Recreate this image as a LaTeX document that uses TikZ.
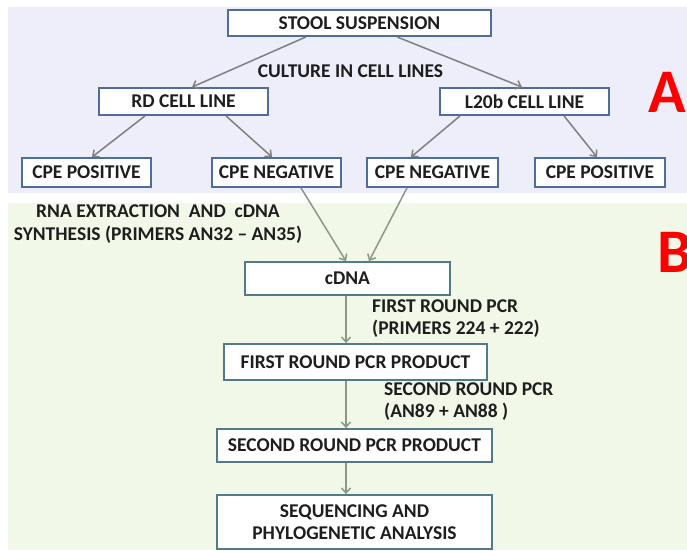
\documentclass[tikz,border=0pt]{standalone}
\usepackage{fontspec}
\setmainfont{Carlito}
\usetikzlibrary{arrows.meta}
\definecolor{bgA}{HTML}{EEEEFA}
\definecolor{bgB}{HTML}{F2F8E8}
\definecolor{edgeA}{HTML}{4F6C9E}
\definecolor{edgeB}{HTML}{537A8A}
\definecolor{arrA}{HTML}{7F7F7F}
\definecolor{arrB}{HTML}{8A9888}
\definecolor{txt}{HTML}{1E1E1E}
\definecolor{lettred}{HTML}{FF0000}
\tikzset{
  boxA/.style={draw=edgeA, line width=1.8pt, fill=white, inner sep=0pt, font=\fontsize{19.5}{22.5}\selectfont\bfseries, text=txt, align=center},
  boxB/.style={draw=edgeB, line width=1.8pt, fill=white, inner sep=0pt, font=\fontsize{19.5}{22.5}\selectfont\bfseries, text=txt, align=center},
  lbl/.style={font=\fontsize{19.5}{22.5}\selectfont\bfseries, text=txt, inner sep=0pt},
  bigletter/.style={font=\fontsize{62}{62}\selectfont\bfseries, text=lettred, inner sep=0pt, anchor=west},
  arrowA/.style={draw=arrA, line width=1.5pt, -{Straight Barb[length=5pt,width=9pt]}},
  arrowB/.style={draw=arrB, line width=1.5pt, -{Straight Barb[length=5pt,width=9pt]}}
}
\begin{document}
\begin{tikzpicture}[x=1pt, y=-1pt]
\useasboundingbox (0,0) rectangle (687,550);
\fill[white] (0,0) rectangle (687,550);
\fill[bgA] (8,7) rectangle (687,193);
\fill[bgB] (8,203) rectangle (687,550);

% Part A
\node[boxA, minimum width=263pt, minimum height=26pt] (stool) at (359.5,23) {STOOL SUSPENSION};
\node[boxA, minimum width=169pt, minimum height=27pt] (rd) at (183.5,101.5) {RD CELL LINE};
\node[boxA, minimum width=169pt, minimum height=27pt] (l20b) at (524.5,101.5) {L20b CELL LINE};
\node[boxA, minimum width=129pt, minimum height=29pt] (cpe1) at (86.5,172.5) {CPE POSITIVE};
\node[boxA, minimum width=129pt, minimum height=29pt] (cpe2) at (276.5,172.5) {CPE NEGATIVE};
\node[boxA, minimum width=131pt, minimum height=29pt] (cpe3) at (432.5,172.5) {CPE NEGATIVE};
\node[boxA, minimum width=130pt, minimum height=29pt] (cpe4) at (600,172.5) {CPE POSITIVE};
\node[lbl] (culture) at (350.5,71) {CULTURE IN CELL LINES};
\node[bigletter] (la) at (648,92) {A};

\draw[arrowA] ([xshift=-53.5pt]stool.south) -- ([xshift=8.5pt]rd.north);
\draw[arrowA] ([xshift=37.5pt]stool.south) -- ([xshift=-2.5pt]l20b.north);
\draw[arrowA] ([xshift=-38.5pt]rd.south) -- ([xshift=5.5pt]cpe1.north);
\draw[arrowA] ([xshift=42.5pt]rd.south) -- ([xshift=-4.5pt]cpe2.north);
\draw[arrowA] ([xshift=-64.5pt]l20b.south) -- ([xshift=-21.5pt]cpe3.north);
\draw[arrowA] ([xshift=39.5pt]l20b.south) -- ([xshift=-3pt]cpe4.north);

% Part B
\node[boxB, minimum width=205pt, minimum height=33pt] (cdna) at (347.5,278.5) {cDNA};
\node[boxB, minimum width=263pt, minimum height=36pt] (first) at (355.5,362) {FIRST ROUND PCR PRODUCT};
\node[boxB, minimum width=275pt, minimum height=33pt] (second) at (354.5,445.5) {SECOND ROUND PCR PRODUCT};
\node[boxB, minimum width=275pt, minimum height=54pt] (seq) at (354.5,522) {SEQUENCING AND\\PHYLOGENETIC ANALYSIS};
\node[lbl, align=center] (rna) at (158,224) {RNA EXTRACTION\ \ AND\ \ cDNA\\SYNTHESIS (PRIMERS AN32 -- AN35)};
\node[lbl, align=left, anchor=west] (pcr1) at (372,318.5) {FIRST ROUND PCR\\(PRIMERS 224 + 222)};
\node[lbl, align=left, anchor=west] (pcr2) at (384,401.5) {SECOND ROUND PCR\\(AN89 + AN88 )};
\node[bigletter] (lb) at (657,252) {B};

\draw[arrowB] ([xshift=24.5pt]cpe2.south) -- ([xshift=-1.5pt]cdna.north);
\draw[arrowB] ([xshift=-25.5pt]cpe3.south) -- ([xshift=21.5pt]cdna.north);
\draw[arrowB] ([xshift=-1.5pt]cdna.south) -- ([xshift=-9.5pt]first.north);
\draw[arrowB] ([xshift=-9.5pt]first.south) -- ([xshift=-8.5pt]second.north);
\draw[arrowB] ([xshift=-8.5pt]second.south) -- ([xshift=-8.5pt]seq.north);
\end{tikzpicture}
\end{document}
